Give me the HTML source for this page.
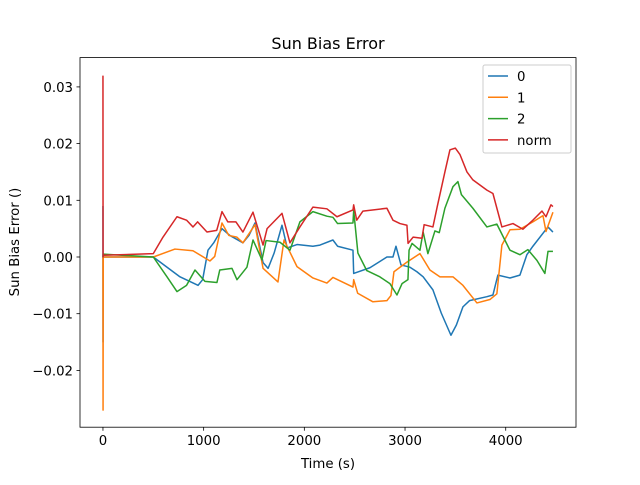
<!DOCTYPE html>
<html><head><meta charset="utf-8"><style>
body{margin:0;background:#fff;font-family:"Liberation Sans","DejaVu Sans",sans-serif}
svg text{font-family:"DejaVu Sans","Liberation Sans",sans-serif;font-size:13.3px;fill:#000}
</style></head><body>
<svg id="chart" width="640" height="480" viewBox="0 0 640 480">
<rect width="640" height="480" fill="#fff"/>
<text x="328" y="49" text-anchor="middle" style="font-size:16px">Sun Bias Error</text>
<g id="plot"></g>
<rect x="80" y="57.6" width="496" height="369.6" fill="none" stroke="#000" stroke-width="0.8"/>
<g id="axes"></g>
<text x="328" y="468" text-anchor="middle">Time (s)</text>
<text transform="translate(19,242) rotate(-90)" text-anchor="middle">Sun Bias Error ()</text>
<g id="legend"></g>
</svg>
<script>
const seriesNames=["0","1","2","norm"];
const colors=["#1f77b4","#ff7f0e","#2ca02c","#d62728"];
const xTicks=[0,1000,2000,3000,4000];
const yTicks=[-0.02,-0.01,0.00,0.01,0.02,0.03];
const yTickLabels=["−0.02","−0.01","0.00","0.01","0.02","0.03"];
const t0=[0,1,3,500,765,944,990,1043,1100,1182,1260,1390,1450,1510,1590,1640,1700,1778,1830,1927,2085,2155,2284,2330,2483,2490,2651,2820,2880,2910,2960,3049,3118,3180,3277,3360,3456,3510,3575,3640,3813,3873,3922,4042,4141,4210,4270,4419,4469];
const v0=[0.009,-0.015,0,0,-0.0035,-0.005,-0.004,0.0012,0.0025,0.005,0.0038,0.0025,0.0038,0.006,-0.001,-0.002,0.0007,0.0056,0.0016,0.0022,0.0019,0.0021,0.003,0.0019,0.0012,-0.0029,-0.0019,0,0,0.0019,-0.0014,-0.0018,-0.0026,-0.0035,-0.0058,-0.0099,-0.0138,-0.012,-0.0088,-0.0077,-0.007,-0.0067,-0.0032,-0.0037,-0.0032,0.0004,0.0019,0.0053,0.0044];
const t1=[0,1,3,500,715,894,1063,1110,1182,1250,1330,1390,1510,1590,1738,1798,1927,2085,2224,2284,2483,2490,2530,2681,2820,2860,2890,3019,3148,3247,3347,3476,3575,3714,3843,3912,3962,4042,4141,4270,4370,4400,4469];
const v1=[0,-0.027,0,0,0.0014,0.0011,-0.0007,0.0001,0.006,0.0038,0.0035,0.0025,0.0057,-0.002,-0.0044,0.003,-0.0017,-0.0037,-0.0046,-0.0036,-0.0053,-0.004,-0.0064,-0.0079,-0.0077,-0.0068,-0.0026,-0.0009,0.0006,-0.0023,-0.0035,-0.0035,-0.005,-0.0081,-0.0075,-0.0065,0.0021,0.0048,0.0049,0.0062,0.0073,0.0045,0.0079];
const t2=[0,2,500,636,735,830,914,1013,1132,1160,1281,1331,1430,1490,1579,1620,1758,1857,1956,2085,2224,2284,2330,2483,2490,2532,2620,2750,2850,2920,2970,3029,3040,3070,3148,3180,3227,3297,3340,3396,3476,3525,3560,3674,3813,3912,4042,4141,4220,4310,4389,4420,4469];
const v2=[0,0.0005,0,-0.0035,-0.0061,-0.005,-0.0023,-0.0043,-0.0045,-0.0023,-0.002,-0.004,-0.0018,0.003,-0.0005,0.0029,0.0026,0.0012,0.0062,0.008,0.0072,0.007,0.0059,0.006,0.0082,0.0007,-0.0024,-0.0035,-0.0047,-0.0067,-0.0047,-0.004,0.0012,0.0024,0.0012,0.0044,0.0006,0.0046,0.0043,0.0086,0.0124,0.0133,0.011,0.0086,0.0053,0.0058,0.0012,0.0004,0.0013,-0.0006,-0.0029,0.001,0.001];
const t3=[0,1,3,500,596,735,830,894,940,1033,1130,1182,1240,1320,1390,1490,1590,1630,1778,1857,1956,2085,2224,2324,2483,2490,2520,2582,2820,2880,2950,3019,3030,3080,3168,3190,3277,3320,3396,3446,3500,3545,3615,3674,3813,3873,3962,4072,4171,4270,4360,4400,4449,4469];
const v3=[0.032,0,0.0003,0.0006,0.0035,0.0071,0.0065,0.0053,0.0062,0.0044,0.0047,0.008,0.0062,0.0062,0.0044,0.0079,0.0021,0.005,0.0077,0.0025,0.0053,0.0088,0.0085,0.0071,0.0083,0.0092,0.0065,0.0081,0.0086,0.0065,0.0059,0.0056,0.0024,0.0035,0.0033,0.0057,0.0053,0.0089,0.015,0.0189,0.0192,0.0181,0.015,0.0136,0.0118,0.0112,0.0053,0.0059,0.0049,0.0065,0.0081,0.0071,0.0092,0.0089];
const ts=[t0,t1,t2,t3], vs=[v0,v1,v2,v3];
const X0=80,X1=576,Y0=427.2,Y1=57.6,xmin=-228,xmax=4698,ymin=-0.03002,ymax=0.03517;
const sx=v=>X0+(v-xmin)/(xmax-xmin)*(X1-X0);
const sy=v=>Y0-(v-ymin)/(ymax-ymin)*(Y0-Y1);
const NS="http://www.w3.org/2000/svg";
const plot=document.getElementById('plot'),axes=document.getElementById('axes'),leg=document.getElementById('legend');
function mk(tag,attrs,parent){const e=document.createElementNS(NS,tag);for(const k in attrs)e.setAttribute(k,attrs[k]);parent.appendChild(e);return e;}
for(let s=0;s<4;s++){
 const d=ts[s].map((t,i)=>(i?'L':'M')+sx(t).toFixed(2)+','+sy(vs[s][i]).toFixed(2)).join('');
 const p=mk('path',{d:d,fill:'none',stroke:colors[s],'stroke-width':1.5,'stroke-linejoin':'round'},plot);
 
 
}
xTicks.forEach(v=>{const x=sx(v);
 const l=mk('line',{x1:x,x2:x,y1:Y0,y2:Y0+3.5,stroke:'#000','stroke-width':0.8},axes);
 
 
 const t=mk('text',{x:x,y:Y0+18,'text-anchor':'middle'},axes);t.textContent=v;
 
 
});
yTicks.forEach((v,i)=>{const y=sy(v);
 const l=mk('line',{x1:X0-3.5,x2:X0,y1:y,y2:y,stroke:'#000','stroke-width':0.8},axes);
 
 
 const t=mk('text',{x:X0-7,y:y+5,'text-anchor':'end'},axes);t.textContent=yTickLabels[i];
 
 
});
const box=mk('rect',{x:483,y:65,width:88,height:88,rx:2,fill:'#fff','fill-opacity':0.8,stroke:'#ccc','stroke-width':1},leg);


seriesNames.forEach((n,i)=>{const y=76+i*21.3;
 const l=mk('line',{x1:488,x2:508,y1:y,y2:y,stroke:colors[i],'stroke-width':1.5},leg);
 
 
 const t=mk('text',{x:517,y:y+5},leg);t.textContent=n;
 
 
});
</script>
</body></html>
